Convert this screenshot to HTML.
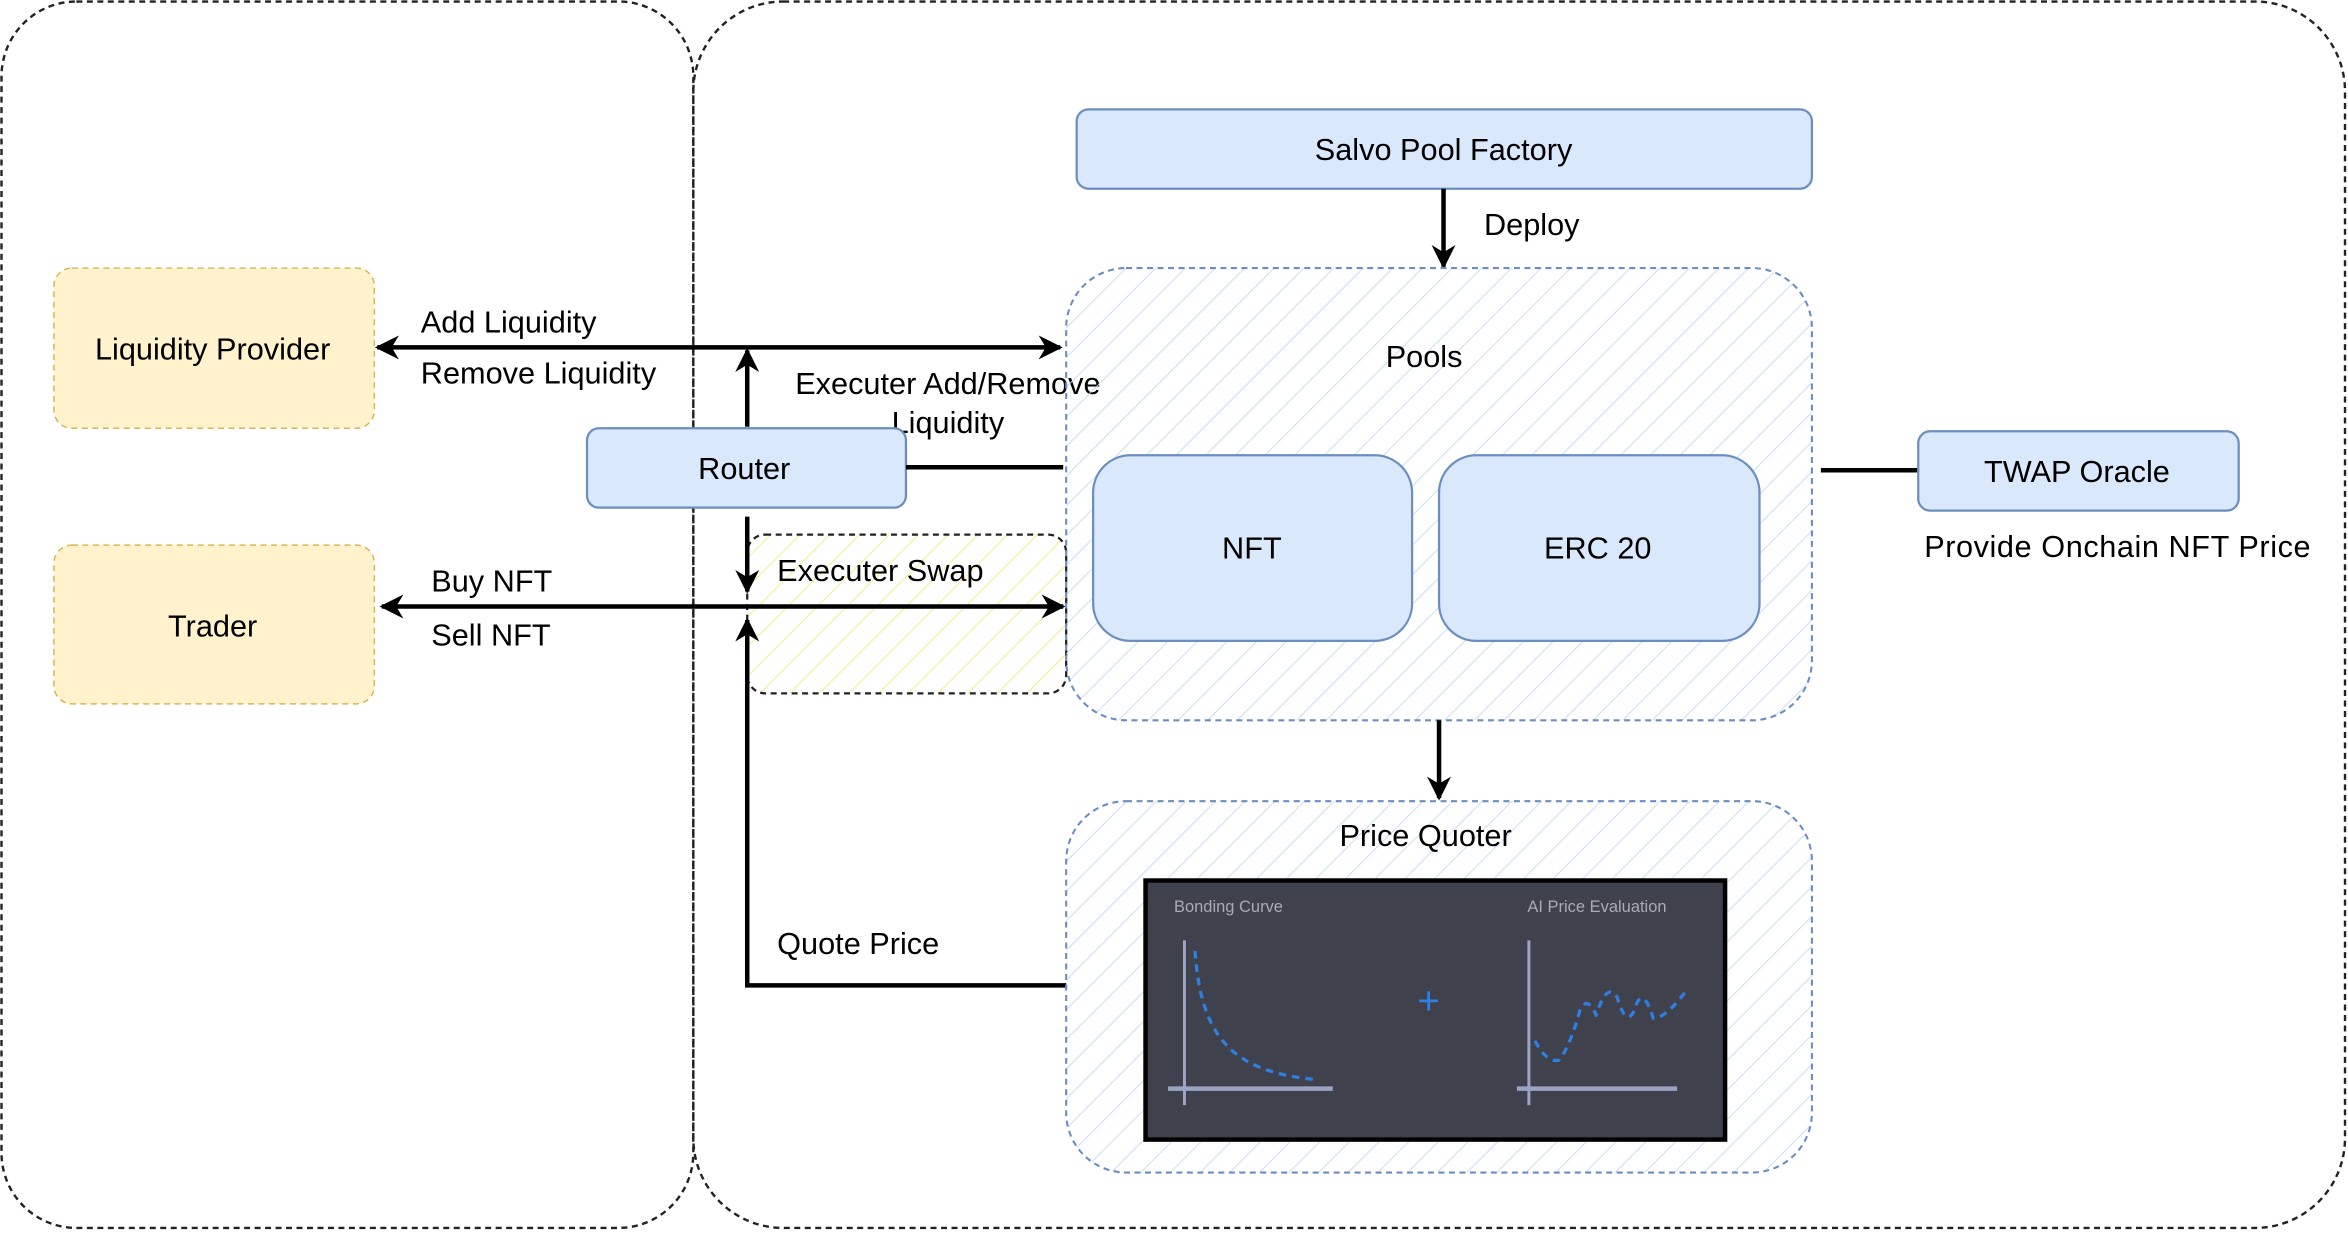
<!DOCTYPE html>
<html><head><meta charset="utf-8">
<style>
html,body{margin:0;padding:0;background:#fff;}
svg{display:block;}
text{font-family:"Liberation Sans",sans-serif;fill:#000;}
</style></head>
<body>
<svg width="2348" height="1254" viewBox="0 0 1568 837.4" xmlns="http://www.w3.org/2000/svg">
<defs>
<pattern id="hb" patternUnits="userSpaceOnUse" width="14" height="14" patternTransform="rotate(45)">
<line x1="0" y1="0" x2="0" y2="14" stroke="#c5d8f5" stroke-width="1.2"/></pattern>
<pattern id="hy" patternUnits="userSpaceOnUse" width="14" height="14" patternTransform="rotate(45)">
<line x1="0" y1="0" x2="0" y2="14" stroke="#f2ec7a" stroke-width="1.2"/></pattern>
<marker id="a2" viewBox="0 0 10 10" refX="9" refY="5" markerWidth="16" markerHeight="16" orient="auto-start-reverse" markerUnits="userSpaceOnUse"><path d="M0,0 L10,5 L0,10 L3,5 z" fill="#000"/></marker>
</defs>

<rect x="1" y="1" width="462" height="819" rx="50" fill="none" stroke="#222" stroke-width="1.6" stroke-dasharray="4,3"/>
<rect x="463" y="1" width="1103" height="819" rx="60" fill="none" stroke="#222" stroke-width="1.6" stroke-dasharray="4,3"/>

<g>
<rect x="36" y="179" width="214" height="107" rx="12" fill="#fff2cc" stroke="#d6b656" stroke-dasharray="4,3"/>
<text x="142" y="240" font-size="20.5" text-anchor="middle">Liquidity Provider</text></g>
<g>
<rect x="36" y="364" width="214" height="106" rx="12" fill="#fff2cc" stroke="#d6b656" stroke-dasharray="4,3"/>
<text x="142" y="425" font-size="20.5" text-anchor="middle">Trader</text></g>

<rect x="499" y="357" width="213" height="106" rx="12" fill="url(#hy)" stroke="#222" stroke-width="1.5" stroke-dasharray="4,3"/>

<line x1="252" y1="232" x2="708" y2="232" stroke="#000" stroke-width="3" marker-start="url(#a2)" marker-end="url(#a2)"/>
<text x="281" y="222" font-size="20.5">Add Liquidity</text>
<text x="281" y="256" font-size="20.5">Remove Liquidity</text>
<line x1="499" y1="285" x2="499" y2="234" stroke="#000" stroke-width="3" marker-end="url(#a2)"/>
<text x="633" y="263" font-size="20.5" text-anchor="middle">Executer Add/Remove</text>
<text x="633" y="289" font-size="20.5" text-anchor="middle">Liquidity</text>

<g>
<rect x="392" y="286" width="213" height="53" rx="8" fill="#dae8fc" stroke="#6c8ebf" stroke-width="1.5"/>
<text x="497" y="320" font-size="20.5" text-anchor="middle">Router</text></g>
<line x1="605" y1="312" x2="710" y2="312" stroke="#000" stroke-width="3"/>
<line x1="499" y1="345" x2="499" y2="395" stroke="#000" stroke-width="3" marker-end="url(#a2)"/>
<text x="519" y="388" font-size="20.5">Executer Swap</text>

<line x1="255" y1="405" x2="710" y2="405" stroke="#000" stroke-width="3" marker-start="url(#a2)" marker-end="url(#a2)"/>
<text x="288" y="395" font-size="20.5">Buy NFT</text>
<text x="288" y="431" font-size="20.5">Sell NFT</text>

<polyline points="712,658 499,658 499,414" fill="none" stroke="#000" stroke-width="3" marker-end="url(#a2)"/>
<text x="519" y="637" font-size="20.5">Quote Price</text>

<g>
<rect x="719" y="73" width="491" height="53" rx="8" fill="#dae8fc" stroke="#6c8ebf" stroke-width="1.5"/>
<text x="964" y="107" font-size="20.5" text-anchor="middle">Salvo Pool Factory</text></g>
<line x1="964" y1="126" x2="964" y2="178" stroke="#000" stroke-width="3" marker-end="url(#a2)"/>
<text x="991" y="157" font-size="20.5">Deploy</text>

<g>
<rect x="712" y="179" width="498" height="302" rx="40" fill="url(#hb)" stroke="#6c8ebf" stroke-width="1.4" stroke-dasharray="4,3"/>
<text x="951" y="245" font-size="20.5" text-anchor="middle">Pools</text></g>
<g>
<rect x="730" y="304" width="213" height="124" rx="25" fill="#dae8fc" stroke="#6c8ebf" stroke-width="1.5"/>
<text x="836" y="373" font-size="20.5" text-anchor="middle">NFT</text></g>
<g>
<rect x="961" y="304" width="214" height="124" rx="25" fill="#dae8fc" stroke="#6c8ebf" stroke-width="1.5"/>
<text x="1067" y="373" font-size="20.5" text-anchor="middle">ERC 20</text></g>

<line x1="1216" y1="314" x2="1281" y2="314" stroke="#000" stroke-width="3"/>
<g>
<rect x="1281" y="288" width="214" height="53" rx="8" fill="#dae8fc" stroke="#6c8ebf" stroke-width="1.5"/>
<text x="1387" y="322" font-size="20.5" text-anchor="middle">TWAP Oracle</text></g>
<text x="1285" y="372" font-size="20.5" textLength="258">Provide Onchain NFT Price</text>

<line x1="961" y1="481" x2="961" y2="533" stroke="#000" stroke-width="3" marker-end="url(#a2)"/>

<g>
<rect x="712" y="535" width="498" height="248" rx="40" fill="url(#hb)" stroke="#6c8ebf" stroke-width="1.4" stroke-dasharray="4,3"/>
<text x="952" y="565" font-size="20.5" text-anchor="middle">Price Quoter</text></g>

<g>
<rect x="765" y="588" width="387" height="173" fill="#3f424d" stroke="#000" stroke-width="3"/>
<text x="784" y="609" font-size="11" style="fill:#a8aab4">Bonding Curve</text>
<text x="1020" y="609" font-size="11" style="fill:#a8aab4">AI Price Evaluation</text>
<line x1="791" y1="628" x2="791" y2="738" stroke="#9da3c4" stroke-width="2"/>
<line x1="780" y1="727" x2="890" y2="727" stroke="#9da3c4" stroke-width="3"/>
<path d="M798,635 C802,690 820,716 880,721" fill="none" stroke="#2f7ee0" stroke-width="2.2" stroke-dasharray="5,4"/>
<text x="954" y="677" font-size="26" text-anchor="middle" style="fill:#2f7ee0">+</text>
<line x1="1021" y1="628" x2="1021" y2="738" stroke="#9da3c4" stroke-width="2"/>
<line x1="1013" y1="727" x2="1120" y2="727" stroke="#9da3c4" stroke-width="3"/>
<path d="M1025,695 Q1033,710 1041,708 Q1048,700 1055,675 Q1060,664 1066,678 Q1073,655 1080,666 Q1087,690 1093,670 Q1098,660 1104,680 Q1112,680 1125,663" fill="none" stroke="#2f7ee0" stroke-width="2.2" stroke-dasharray="5,4" stroke-linejoin="round"/>
</g>
</svg>
</body></html>
